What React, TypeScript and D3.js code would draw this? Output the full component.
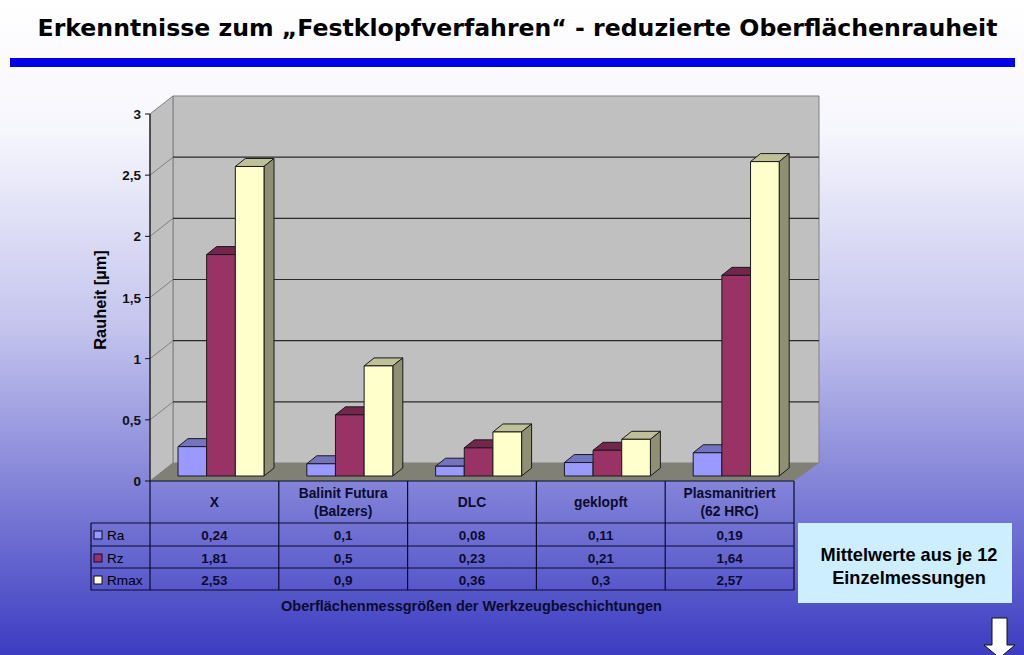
import React from "react";
import * as d3 from "d3";

const categories = [["X"], ["Balinit Futura", "(Balzers)"], ["DLC"], ["geklopft"], ["Plasmanitriert", "(62 HRC)"]];
const seriesNames = ["Ra", "Rz", "Rmax"];
const ra = [0.24, 0.1, 0.08, 0.11, 0.19];
const rz = [1.81, 0.5, 0.23, 0.21, 1.64];
const rmax = [2.53, 0.9, 0.36, 0.3, 2.57];
const raLabels = ["0,24", "0,1", "0,08", "0,11", "0,19"];
const rzLabels = ["1,81", "0,5", "0,23", "0,21", "1,64"];
const rmaxLabels = ["2,53", "0,9", "0,36", "0,3", "2,57"];
const ticks = [0, 0.5, 1, 1.5, 2, 2.5, 3];
const tickLabels = ["0", "0,5", "1", "1,5", "2", "2,5", "3"];

const faceColors = ["#9999ff", "#993366", "#ffffcc"];
const topColors = ["#7373bf", "#73264d", "#bfbf99"];
const sideColors = ["#56568f", "#561d3a", "#8f8f73"];
const ink = "#0b0b2e";
const arial = "'Liberation Sans', Arial, sans-serif";

// chart frame
const left = 150, right = 794, floorY = 481, topY = 114;
const depthX = 23, depthY = -18;
const barDepthX = 10, barDepthY = -8;

const x = d3.scaleBand<number>().domain(d3.range(categories.length)).range([left, right]);
const y = d3.scaleLinear().domain([0, 3]).range([floorY, topY]);
const inner = d3.scaleBand<number>().domain([0, 1, 2]).range([28, 114]);

const rows = [ra, rz, rmax];
const rowLabels = [raLabels, rzLabels, rmaxLabels];
const rowLines = [523, 546, 568, 590];
const legendLeft = 91;

const poly = (pts: number[][]) => pts.map((p) => p.join(",")).join(" ");

function Bar({ cat, ser, value }: { cat: number; ser: number; value: number }) {
  const x0 = x(cat)! + inner(ser)!;
  const w = inner.bandwidth();
  const bottom = y(0) - 5;
  const top = bottom - (y(0) - y(value));
  return (
    <g stroke="#1a1a1a" strokeWidth={1} strokeLinejoin="round">
      <polygon
        fill={topColors[ser]}
        points={poly([[x0, top], [x0 + barDepthX, top + barDepthY], [x0 + w + barDepthX, top + barDepthY], [x0 + w, top]])}
      />
      <polygon
        fill={sideColors[ser]}
        points={poly([[x0 + w, top], [x0 + w + barDepthX, top + barDepthY], [x0 + w + barDepthX, bottom + barDepthY], [x0 + w, bottom]])}
      />
      <rect x={x0} y={top} width={w} height={bottom - top} fill={faceColors[ser]} />
    </g>
  );
}

export default function App() {
  return (
    <svg width={1024} height={655} style={{ position: "absolute", left: 0, top: 0 }} fontFamily={arial}>
      <defs>
        <linearGradient id="bg" x1="0" y1="0" x2="0" y2="1">
          <stop offset="0" stopColor="#ffffff" />
          <stop offset="0.2" stopColor="#f6f6fd" />
          <stop offset="0.5" stopColor="#c4c4ee" />
          <stop offset="0.7" stopColor="#8e8edc" />
          <stop offset="1" stopColor="#3c3cc2" />
        </linearGradient>
      </defs>
      <rect width={1024} height={655} fill="url(#bg)" />

      <text x={517.5} y={36} textAnchor="middle" fontFamily="'DejaVu Sans', Verdana, sans-serif" fontWeight="bold" fontSize={23.6} fill="#000">
        Erkenntnisse zum „Festklopfverfahren“ - reduzierte Oberflächenrauheit
      </text>
      <rect x={10} y={58} width={1005} height={9} fill="#0000e6" />

      {/* walls and floor */}
      <polygon
        fill="#c0c0c0"
        stroke="#808080"
        points={poly([[left + depthX, topY + depthY], [right + depthX + 2, topY + depthY], [right + depthX + 2, floorY + depthY], [left + depthX, floorY + depthY]])}
      />
      <polygon
        fill="#c0c0c0"
        stroke="#808080"
        points={poly([[left, topY], [left + depthX, topY + depthY], [left + depthX, floorY + depthY], [left, floorY]])}
      />
      <polygon
        fill="#808074"
        points={poly([[left, floorY], [left + depthX, floorY + depthY], [right + depthX + 2, floorY + depthY], [right, floorY]])}
      />
      {ticks.slice(1, -1).map((t) => (
        <g key={t}>
          <line x1={left + depthX} x2={right + depthX + 2} y1={y(t) + depthY} y2={y(t) + depthY} stroke="#2a2a2a" strokeWidth={1.2} />
          <line x1={left} x2={left + depthX} y1={y(t)} y2={y(t) + depthY} stroke="#808080" />
        </g>
      ))}

      {/* y axis */}
      <line x1={left} x2={left} y1={topY} y2={floorY} stroke="#111" strokeWidth={1.2} />
      {ticks.map((t, i) => (
        <g key={t}>
          <line x1={left - 5} x2={left} y1={y(t)} y2={y(t)} stroke="#111" />
          <text x={left - 9} y={y(t) + 5} textAnchor="end" fontSize={13.5} fontWeight="bold" stroke="none" fill="#111">
            {tickLabels[i]}
          </text>
        </g>
      ))}
      <text transform="translate(106,300) rotate(-90)" textAnchor="middle" fontSize={16.4} fontWeight="bold" fill="#000">
        Rauheit [µm]
      </text>

      {categories.map((_, c) => rows.map((r, s) => <Bar key={`${c}-${s}`} cat={c} ser={s} value={r[c]} />))}

      {/* data table */}
      <g stroke={ink} strokeWidth={1.2} fill="none">
        <line x1={left} x2={right} y1={floorY} y2={floorY} />
        {rowLines.map((ly) => (
          <line key={ly} x1={legendLeft} x2={right} y1={ly} y2={ly} />
        ))}
        <line x1={legendLeft} x2={legendLeft} y1={rowLines[0]} y2={rowLines[3]} />
        <line x1={left} x2={left} y1={floorY} y2={rowLines[3]} />
        {categories.map((_, c) => (
          <line key={c} x1={x(c)! + x.bandwidth()} x2={x(c)! + x.bandwidth()} y1={floorY} y2={rowLines[3]} />
        ))}
      </g>
      <g fill={ink} fontSize={13.5} fontWeight="bold" textAnchor="middle">
        {categories.map((lines, c) => {
          const cx = x(c)! + x.bandwidth() / 2;
          const startY = lines.length === 1 ? 507 : 498;
          return (
            <text key={c} x={cx} y={startY} fontSize={13.8}>
              {lines.map((l, i) => (
                <tspan key={l} x={cx} y={startY + i * 17.5}>
                  {l}
                </tspan>
              ))}
            </text>
          );
        })}
        {rowLabels.map((labels, s) =>
          labels.map((l, c) => (
            <text key={`${s}-${c}`} x={x(c)! + x.bandwidth() / 2} y={rowLines[s] + 17}>
              {l}
            </text>
          ))
        )}
      </g>
      {seriesNames.map((n, s) => (
        <g key={n}>
          <rect x={94} y={rowLines[s] + 8} width={8} height={8} fill={faceColors[s]} stroke={ink} />
          <text x={107} y={rowLines[s] + 17} fontSize={13.6} fill="#000">
            {n}
          </text>
        </g>
      ))}
      <text x={471.5} y={611} textAnchor="middle" fontSize={14.5} fontWeight="bold" fill={ink}>
        Oberflächenmessgrößen der Werkzeugbeschichtungen
      </text>

      {/* note box */}
      <rect x={798} y={523} width={214} height={80} fill="#cceeff" />
      <text textAnchor="middle" fontSize={18.2} fontWeight="bold" fill="#000">
        <tspan x={909} y={561}>Mittelwerte aus je 12</tspan>
        <tspan x={909} y={584}>Einzelmessungen</tspan>
      </text>

      {/* next arrow */}
      <polygon
        fill="#fff"
        stroke="#111"
        points={poly([[992, 618], [1007, 618], [1007, 645], [1015, 645], [999.5, 658], [984, 645], [992, 645]])}
      />
    </svg>
  );
}
